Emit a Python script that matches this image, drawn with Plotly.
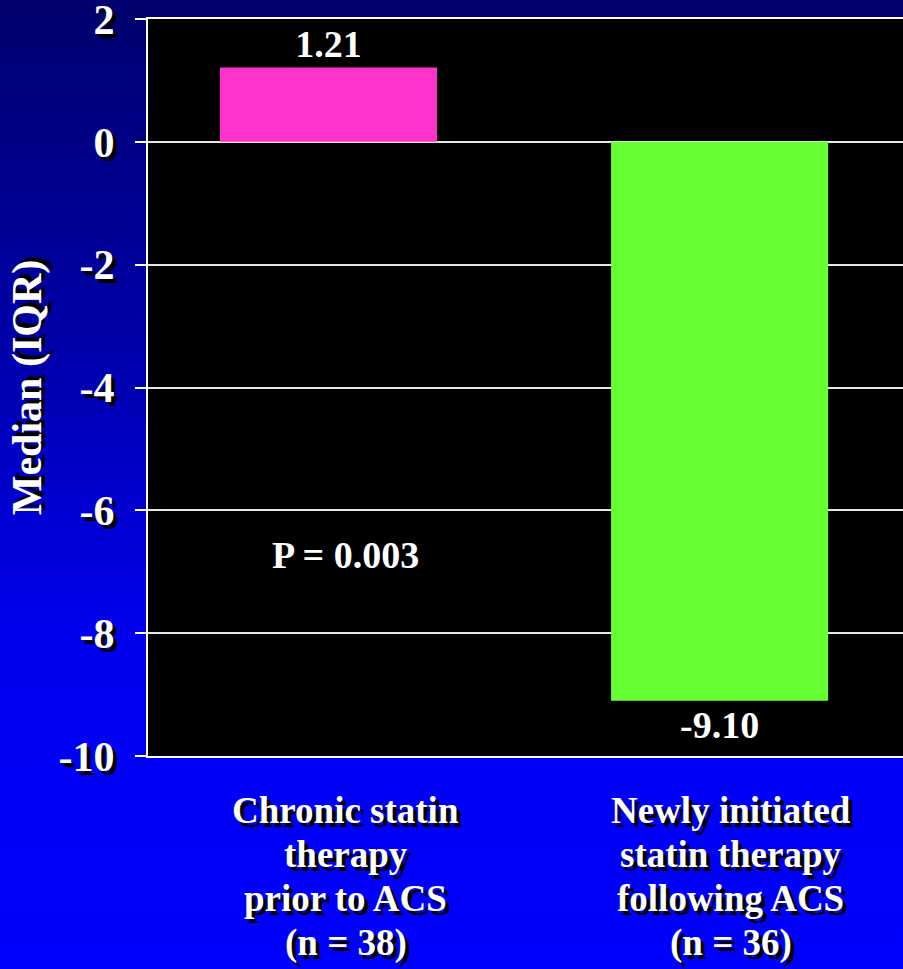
import base64
import plotly.graph_objects as go

categories = ["Chronic statin<br>therapy<br>prior to ACS<br>(n = 38)",
              "Newly initiated<br>statin therapy<br>following ACS<br>(n = 36)"]
medians = [1.21, -9.10]
bar_colors = ["#FF33CC", "#66FF33"]
p_text = "P = 0.003"
y_title = "Median (IQR)"
y_ticks = [2, 0, -2, -4, -6, -8, -10]

FONT = "Liberation Serif"
SHADOW = "4px 4px 0px #000000"

svg = ('<svg xmlns="http://www.w3.org/2000/svg" width="10" height="100" preserveAspectRatio="none">'
       '<defs><linearGradient id="g" x1="0" y1="0" x2="0" y2="1">'
       '<stop offset="0" stop-color="#00006e"/>'
       '<stop offset="0.35" stop-color="#0000a8"/>'
       '<stop offset="0.65" stop-color="#0000ee"/>'
       '<stop offset="1" stop-color="#0000ff"/>'
       '</linearGradient></defs><rect width="10" height="100" fill="url(#g)"/></svg>')
svg_uri = "data:image/svg+xml;base64," + base64.b64encode(svg.encode()).decode()

fig = go.Figure()
fig.add_trace(go.Bar(
    x=categories, y=medians,
    marker=dict(color=bar_colors, line=dict(width=0)),
    width=0.555,
    text=[f"{v:.2f}" for v in medians],
    textposition="outside",
    textfont=dict(family=FONT, size=38, color="white", weight="bold"),
    cliponaxis=False,
    hoverinfo="skip",
))

W, H = 903, 969
ml, mr, mt, mb = 148, 0, 19, 213

annotations = []
shifts = [17, 11]
for c, s in zip(categories, shifts):
    for i, line in enumerate(c.split("<br>")):
        annotations.append(dict(
            x=c, y=0, xref="x", yref="paper", yanchor="top", xanchor="center",
            yshift=-32 - 44 * i, xshift=s, text=line, showarrow=False, align="center",
            font=dict(family=FONT, size=37, color="white", weight="bold", shadow=SHADOW),
        ))
annotations.append(dict(
    x=categories[0], y=-6.73, xref="x", yref="y", xshift=17,
    text=p_text, showarrow=False,
    font=dict(family=FONT, size=38, color="white", weight="bold"),
))

fig.update_layout(
    width=W, height=H,
    margin=dict(l=ml, r=mr, t=mt, b=mb, pad=0, autoexpand=False),
    paper_bgcolor="#0000ff",
    plot_bgcolor="black",
    showlegend=False,
    images=[dict(source=svg_uri, xref="paper", yref="paper",
                 x=-ml / (W - ml - mr), y=1 + mt / (H - mt - mb),
                 sizex=W / (W - ml - mr), sizey=H / (H - mt - mb),
                 xanchor="left", yanchor="top", sizing="stretch", layer="below")],
    shapes=[dict(type="rect", xref="paper", yref="paper", x0=0, x1=1, y0=0, y1=1,
                 fillcolor="black", line=dict(width=0), layer="below")],
    annotations=annotations,
    xaxis=dict(
        type="category", range=[-0.4616, 1.469], automargin=False,
        showticklabels=False, showgrid=False, zeroline=False,
        showline=True, linecolor="white", linewidth=2, ticks="", mirror=True,
    ),
    yaxis=dict(
        range=[-10, 2], tickvals=y_ticks, ticktext=[str(t) for t in y_ticks],
        automargin=False,
        showgrid=True, gridcolor="#e6e6e6", gridwidth=2,
        zeroline=True, zerolinecolor="#e6e6e6", zerolinewidth=2,
        showline=True, linecolor="white", linewidth=2,
        ticks="outside", ticklen=11, tickwidth=2, tickcolor="white",
        ticklabelstandoff=12, ticklabeloverflow="allow",
        tickfont=dict(family=FONT, size=42, color="white", weight="bold", shadow=SHADOW),
        title=dict(text=y_title, standoff=4,
                   font=dict(family=FONT, size=42, color="white", weight="bold", shadow=SHADOW)),
    ),
)

fig.write_html("out.html", config={"displayModeBar": False},
               post_script="document.body.style.margin='0';document.body.style.overflow='hidden';")
